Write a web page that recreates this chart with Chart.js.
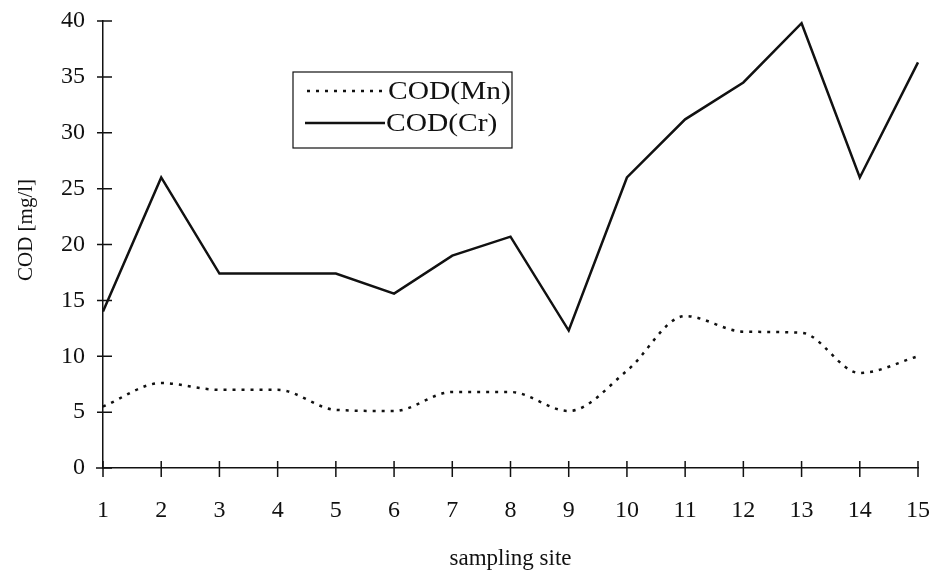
<!DOCTYPE html>
<html>
<head>
<meta charset="utf-8">
<script src="https://cdn.jsdelivr.net/npm/chart.js@4.4.0/dist/chart.umd.min.js"></script>
<style>
  html, body { margin: 0; padding: 0; background: #fff; }
  #wrap { width: 933px; height: 574px; }
</style>
</head>
<body>
<div id="wrap"><canvas id="grafico" width="933" height="574"></canvas></div>
<script>
// dados
const sites = ['1','2','3','4','5','6','7','8','9','10','11','12','13','14','15'];
const codMn = [5.5, 7.6, 7.0, 7.0, 5.2, 5.1, 6.8, 6.8, 5.1, 8.7, 13.6, 12.2, 12.1, 8.5, 10.0];
const codCr = [14.0, 26.0, 17.4, 17.4, 17.4, 15.6, 19.0, 20.7, 12.3, 26.0, 31.2, 34.5, 39.8, 26.0, 36.3];
const yTicks = [0, 5, 10, 15, 20, 25, 30, 35, 40];

const fonte = 'Liberation Serif, Times New Roman, serif';

// texto levemente esticado na horizontal, como no original escaneado
function textoLargo(c, txt, x, y, esc) {
  c.save();
  c.translate(x, y);
  c.scale(esc, 1);
  c.fillText(txt, 0, 0);
  c.restore();
}

// fundo branco, marcas de escala, legenda e titulo do eixo y
const marcasPlugin = {
  id: 'marcas',
  beforeDraw(chart) {
    const c = chart.ctx;
    c.save();
    c.fillStyle = '#fff';
    c.fillRect(0, 0, chart.width, chart.height);
    c.restore();
  },
  afterDraw(chart) {
    const c = chart.ctx;
    const xs = chart.scales.x, ys = chart.scales.y;
    const a = chart.chartArea;
    c.save();
    c.strokeStyle = '#111';
    c.lineWidth = 1.5;
    c.beginPath();
    yTicks.forEach(v => {
      const py = ys.getPixelForValue(v);
      c.moveTo(a.left - 6, py);
      c.lineTo(a.left + 9, py);
    });
    sites.forEach((s, i) => {
      const px = xs.getPixelForValue(i);
      c.moveTo(px, a.bottom - 7);
      c.lineTo(px, a.bottom + 9);
    });
    c.moveTo(a.left - 7, a.bottom);
    c.lineTo(a.left, a.bottom);
    c.stroke();

    // legenda dentro do grafico
    const bx = 293, by = 72, bw = 219, bh = 76;
    c.lineWidth = 1.2;
    c.strokeRect(bx, by, bw, bh);
    c.font = '25px ' + fonte;
    c.fillStyle = '#111';
    c.textBaseline = 'middle';
    c.lineWidth = 2.5;
    c.setLineDash([3, 6]);
    c.beginPath();
    c.moveTo(307, 91); c.lineTo(382, 91);
    c.stroke();
    c.setLineDash([]);
    c.beginPath();
    c.moveTo(305, 123); c.lineTo(385, 123);
    c.stroke();
    textoLargo(c, 'COD(Mn)', 388, 92, 1.18);
    textoLargo(c, 'COD(Cr)', 386, 124, 1.18);

    // titulo do eixo y
    c.font = '21px ' + fonte;
    c.textAlign = 'center';
    c.translate(26, 230);
    c.rotate(-Math.PI / 2);
    c.fillText('COD [mg/l]', 0, 0);
    c.restore();
  }
};

const ctx = document.getElementById('grafico');
const grafico = new Chart(ctx, {
  type: 'line',
  data: {
    labels: sites,
    datasets: [
      {
        label: 'COD(Mn)',
        data: codMn,
        borderColor: '#111',
        borderWidth: 2.5,
        borderDash: [3, 6],
        cubicInterpolationMode: 'monotone',
        pointRadius: 0,
        fill: false
      },
      {
        label: 'COD(Cr)',
        data: codCr,
        borderColor: '#111',
        borderWidth: 2.5,
        tension: 0,
        pointRadius: 0,
        fill: false
      }
    ]
  },
  options: {
    responsive: false,
    animation: false,
    layout: { padding: { top: 21, right: 15, left: 0, bottom: 0 } },
    plugins: {
      legend: { display: false },
      tooltip: { enabled: false }
    },
    scales: {
      x: {
        offset: false,
        grid: { display: false, drawTicks: false },
        border: { display: true, color: '#111', width: 1.5 },
        ticks: {
          color: '#111',
          font: { family: fonte, size: 24 },
          padding: 28,
          maxRotation: 0,
          autoSkip: false
        },
        title: {
          display: true,
          text: 'sampling site',
          color: '#111',
          font: { family: fonte, size: 23 },
          padding: { top: 0, bottom: 1 }
        },
        afterFit(s) {
          s.height = 106;
          s.paddingLeft = 0;
          s.paddingRight = 0;
        }
      },
      y: {
        min: 0,
        max: 40,
        grid: { display: false, drawTicks: false },
        border: { display: true, color: '#111', width: 1.5 },
        ticks: {
          stepSize: 5,
          color: '#111',
          font: { family: fonte, size: 24 },
          padding: 18
        },
        afterFit(s) {
          s.width = 103;
          s.paddingTop = 0;
          s.paddingBottom = 0;
        }
      }
    }
  },
  plugins: [marcasPlugin]
});
</script>
</body>
</html>
